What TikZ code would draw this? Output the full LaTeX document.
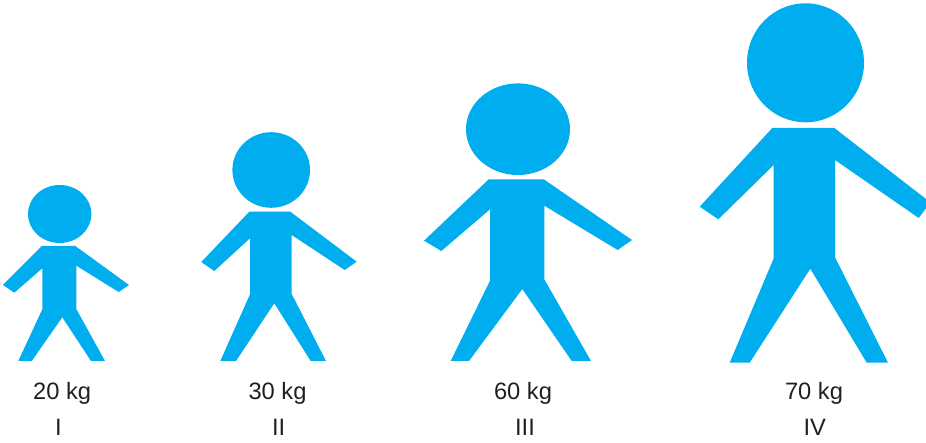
\documentclass[tikz,border=0pt]{standalone}
\usepackage{fontspec}
\setmainfont{Liberation Sans}
\usepackage{xcolor}
\usepackage{tikz}
\definecolor{kidblue}{HTML}{00AEEF}
\definecolor{labelgray}{HTML}{231F20}
\tikzset{
  person/.style={fill=kidblue,draw=none},
  caption/.style={anchor=base,inner sep=0pt,text=labelgray,font=\fontsize{23.7}{28}\selectfont},
}

\begin{document}
\begin{tikzpicture}[x=1pt,y=-1pt]
  \useasboundingbox (0,0) rectangle (926,443);
  %% (I) 20 kg
  \fill[person] (59.7,214) ellipse[x radius=31.7,y radius=29];
  \fill[person] (42,246)--(75.3,246)--(129,285)--(118.7,292)--(76.3,265.7)--(76.3,309)
    --(105,361)--(91,361)--(62.3,317.3)--(31.7,361)--(18.3,361)--(42.3,309.3)
    --(42.3,268.3)--(14.3,292.7)--(3,285)--cycle;
  %% (II) 30 kg
  \fill[person] (271.2,170) ellipse[x radius=38.8,y radius=37.8];
  \fill[person] (249.3,211.7)--(290.3,211.7)--(356.7,261.7)--(344.7,270)--(291.7,235)--(291.7,294)
    --(326,361)--(310.7,361)--(274.3,303.3)--(236,361)--(220.3,361)--(250,294.3)
    --(250,238.3)--(214.3,271)--(201.3,262)--cycle;
  %% (III) 60 kg
  \fill[person] (518,129.2) ellipse[x radius=52,y radius=45.8];
  \fill[person] (488.7,179.3)--(543.7,179.3)--(632,240)--(617.7,250)--(544.3,205.7)--(544.3,279.3)
    --(591,361)--(571.7,361)--(522.3,289)--(469,361)--(450.7,361)--(490,280.7)
    --(490,209.3)--(441.3,251)--(424,240.7)--cycle;
  %% (IV) 70 kg, right hand runs off the page
  \fill[person] (805.5,62.8) ellipse[x radius=58.5,y radius=59.5];
  \fill[person] (772.3,128)--(834.3,128)--(926,199)--(926,208.3)--(918.7,218)--(835,160)--(835,257.3)
    --(888,362.7)--(866.7,362.7)--(810.3,268.7)--(749.7,362.7)--(729.7,362.7)--(773.7,258.3)
    --(773.7,165)--(718.3,219.3)--(699.7,206.7)--cycle;
  %% Masses and numerals
  \foreach \cx/\lbl/\nm in {62.2/20 kg/one, 277.5/30 kg/two, 523/60 kg/three, 814/70 kg/four}{
    \node[caption] (mass\nm) at (\cx,399.5) {\lbl};
  }
  \foreach \cx/\lbl/\nm in {58.3/I/one, 278.7/II/two, 525/III/three, 814.7/IV/four}{
    \node[caption] (num\nm) at (\cx,435.7) {\lbl};
  }
\end{tikzpicture}
\end{document}
